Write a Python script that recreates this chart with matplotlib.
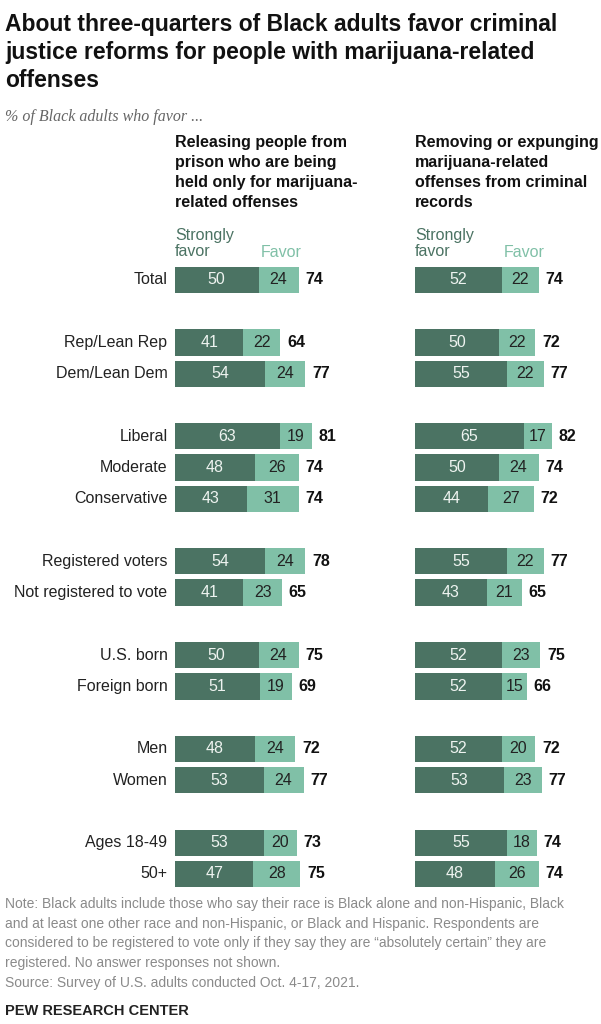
import matplotlib
matplotlib.use("Agg")
import matplotlib.pyplot as plt

plt.rcParams['font.family'] = ['Liberation Sans Narrow', 'Liberation Sans', 'DejaVu Sans']

# data
groups = ['Total', 'Rep/Lean Rep', 'Dem/Lean Dem', 'Liberal', 'Moderate', 'Conservative',
          'Registered voters', 'Not registered to vote', 'U.S. born', 'Foreign born',
          'Men', 'Women', 'Ages 18-49', '50+']
rows = [0, 2, 3, 5, 6, 7, 9, 10, 12, 13, 15, 16, 18, 19]

release_strong = [50, 41, 54, 63, 48, 43, 54, 41, 50, 51, 48, 53, 53, 47]
release_favor = [24, 22, 24, 19, 26, 31, 24, 23, 24, 19, 24, 24, 20, 28]
release_net = [74, 64, 77, 81, 74, 74, 78, 65, 75, 69, 72, 77, 73, 75]

expunge_strong = [52, 50, 55, 65, 50, 44, 55, 43, 52, 52, 52, 53, 55, 48]
expunge_favor = [22, 22, 22, 17, 24, 27, 22, 21, 23, 15, 20, 23, 18, 26]
expunge_net = [74, 72, 77, 82, 74, 72, 77, 65, 75, 66, 72, 77, 74, 74]

headers = ["Releasing people from\nprison who are being\nheld only for marijuana-\nrelated offenses",
           "Removing or expunging\nmarijuana-related\noffenses from criminal\nrecords"]

DARK = '#4b7363'
LIGHT = '#80c0a7'

W, H = 601, 1024
fig = plt.figure(figsize=(W / 100, H / 100), dpi=100)


def fx(x):
    return x / W


def fy(y):
    return 1 - y / H


unit_px = 1.67
row_px = 31.26
top_px = 280 - 0.5 * row_px
bottom_px = 280 + 19.5 * row_px

panels = [(175, release_strong, release_favor, release_net, headers[0]),
          (415, expunge_strong, expunge_favor, expunge_net, headers[1])]

for i, (left_px, strong, favor, net, header) in enumerate(panels):
    ax = fig.add_axes([fx(left_px), fy(bottom_px), 100 * unit_px / W,
                       (bottom_px - top_px) / H])
    ax.set_xlim(0, 100)
    ax.set_ylim(19.5, -0.5)
    ax.axis('off')
    ax.barh(rows, strong, height=0.84, color=DARK)
    ax.barh(rows, favor, left=strong, height=0.84, color=LIGHT)
    for r, s, f, n in zip(rows, strong, favor, net):
        ax.text(s / 2, r, str(s), ha='center', va='center', color='#eef3f0', fontsize=11.5)
        ax.text(s + f / 2, r, str(f), ha='center', va='center', color='#222222', fontsize=11.5)
        ax.text(s + f + 4, r, str(n), ha='left', va='center', color='#111111',
                fontsize=11.5, fontweight='bold')
    if i == 0:
        for r, g in zip(rows, groups):
            ax.text(-4.5, r, g, ha='right', va='center', color='#222222', fontsize=11.5)
    fig.text(fx(left_px), fy(135), header, ha='left', va='top', fontsize=11.5,
             fontweight='bold', color='#111111', linespacing=1.42)
    fig.text(fx(left_px), fy(228), "Strongly\nfavor", ha='left', va='top', fontsize=11.5,
             color=DARK, linespacing=1.1)
    fig.text(fx(left_px + strong[0] * unit_px + 2), fy(245), "Favor", ha='left', va='top',
             fontsize=11.5, color=LIGHT)

fig.text(fx(5), fy(13), "About three-quarters of Black adults favor criminal\n"
         "justice reforms for people with marijuana-related\noffenses",
         ha='left', va='top', fontsize=16.5, fontweight='bold', color='#111111',
         linespacing=1.27)
fig.text(fx(5), fy(109), "% of Black adults who favor ...", ha='left', va='top',
         fontsize=11.5, style='italic', color='#666666',
         family=['Liberation Serif', 'DejaVu Serif'])

note = ("Note: Black adults include those who say their race is Black alone and non-Hispanic, Black\n"
        "and at least one other race and non-Hispanic, or Black and Hispanic. Respondents are\n"
        "considered to be registered to vote only if they say they are \u201cabsolutely certain\u201d they are\n"
        "registered. No answer responses not shown.\n"
        "Source: Survey of U.S. adults conducted Oct. 4-17, 2021.")
fig.text(fx(5), fy(897), note, ha='left', va='top', fontsize=10, color='#8a8a8a',
         linespacing=1.52)
fig.text(fx(5), fy(1004), "PEW RESEARCH CENTER", ha='left', va='top', fontsize=10.5,
         fontweight='bold', color='#222222')

fig.savefig('out.png', dpi=100)
